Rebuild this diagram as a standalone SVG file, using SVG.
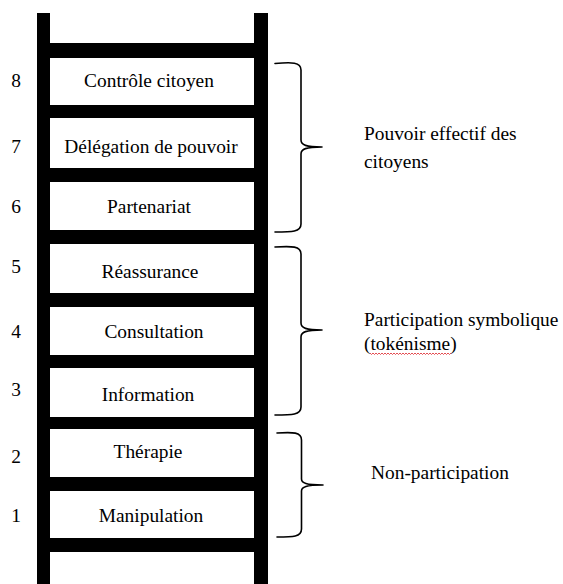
<svg xmlns="http://www.w3.org/2000/svg" width="563" height="584" viewBox="0 0 563 584">
  <style>
    .t { font-family: "Liberation Serif", "Times New Roman", serif; font-size: 19.4px; fill: #000; }
    .c { text-anchor: middle; }
    .rail, .rung { fill: #000; }
    .brace { fill: none; stroke: #000; stroke-width: 1.6; stroke-linecap: round; stroke-linejoin: round; }
    .squig { fill: none; stroke: #e0393e; stroke-width: 0.9; }
  </style>
  <rect x="0" y="0" width="563" height="584" fill="#fff"/>

  <g id="ladder">
    <rect class="rail" x="37" y="13" width="13" height="571"/>
    <rect class="rail" x="254" y="13" width="14" height="571"/>
    <rect class="rung" x="50" y="43" width="204" height="15"/>
    <rect class="rung" x="50" y="105" width="204" height="13"/>
    <rect class="rung" x="50" y="168" width="204" height="14"/>
    <rect class="rung" x="50" y="230" width="204" height="14"/>
    <rect class="rung" x="50" y="293" width="204" height="14"/>
    <rect class="rung" x="50" y="355" width="204" height="13"/>
    <rect class="rung" x="50" y="417" width="204" height="12"/>
    <rect class="rung" x="50" y="477" width="204" height="14"/>
    <rect class="rung" x="50" y="538" width="204" height="14"/>
  </g>

  <g id="step8"><text class="t c" x="16" y="87">8</text><text class="t c" x="149" y="87">Contrôle citoyen</text></g>
  <g id="step7"><text class="t c" x="16" y="153">7</text><text class="t c" x="151" y="153">Délégation de pouvoir</text></g>
  <g id="step6"><text class="t c" x="16" y="213">6</text><text class="t c" x="149" y="213">Partenariat</text></g>
  <g id="step5"><text class="t c" x="16" y="273">5</text><text class="t c" x="150" y="278">Réassurance</text></g>
  <g id="step4"><text class="t c" x="16" y="338">4</text><text class="t c" x="154" y="338">Consultation</text></g>
  <g id="step3"><text class="t c" x="16" y="396">3</text><text class="t c" x="148" y="401">Information</text></g>
  <g id="step2"><text class="t c" x="16" y="463">2</text><text class="t c" x="148" y="458">Thérapie</text></g>
  <g id="step1"><text class="t c" x="16" y="522">1</text><text class="t c" x="151" y="522">Manipulation</text></g>

  <g id="connectors">
    <path class="brace" d="M275,63.5 C292,62 301,62 301,70 L301,140 C301,145 306,147 322,147 C306,147 301,149 301,154 L301,224 C301,232 292,232 275,232"/>
    <path class="brace" d="M275,247 C292,246 301,246 301,254 L301,323 C301,328 306,330 322,330 C306,330 301,332 301,337 L301,407 C301,415 292,415 275,415"/>
    <path class="brace" d="M277,433 C293,432 301.5,432 301.5,440 L301.5,479 C301.5,483 306,485 323,485 C306,485 301.5,487 301.5,491 L301.5,529 C301.5,537 293,537 277,537"/>
  </g>

  <g id="group-pouvoir">
    <text class="t" x="364" y="140">Pouvoir effectif des</text>
    <text class="t" x="364" y="168">citoyens</text>
  </g>
  <g id="group-symbolique">
    <text class="t" x="364" y="326">Participation symbolique</text>
    <text class="t" x="364" y="350">(tokénisme)</text>
    <path class="squig" d="M370,353 l1.5,1.5 l1.5,-1.5 l1.5,1.5 l1.5,-1.5 l1.5,1.5 l1.5,-1.5 l1.5,1.5 l1.5,-1.5 l1.5,1.5 l1.5,-1.5 l1.5,1.5 l1.5,-1.5 l1.5,1.5 l1.5,-1.5 l1.5,1.5 l1.5,-1.5 l1.5,1.5 l1.5,-1.5 l1.5,1.5 l1.5,-1.5 l1.5,1.5 l1.5,-1.5 l1.5,1.5 l1.5,-1.5 l1.5,1.5 l1.5,-1.5 l1.5,1.5 l1.5,-1.5 l1.5,1.5 l1.5,-1.5 l1.5,1.5 l1.5,-1.5 l1.5,1.5 l1.5,-1.5 l1.5,1.5 l1.5,-1.5 l1.5,1.5 l1.5,-1.5 l1.5,1.5 l1.5,-1.5 l1.5,1.5 l1.5,-1.5 l1.5,1.5 l1.5,-1.5 l1.5,1.5 l1.5,-1.5 l1.5,1.5 l1.5,-1.5 l1.5,1.5 l1.5,-1.5 l1.5,1.5 l1.5,-1.5 l1.5,1.5 l1.5,-1.5"/>
  </g>
  <g id="group-non">
    <text class="t" x="371" y="479">Non-participation</text>
  </g>
</svg>
